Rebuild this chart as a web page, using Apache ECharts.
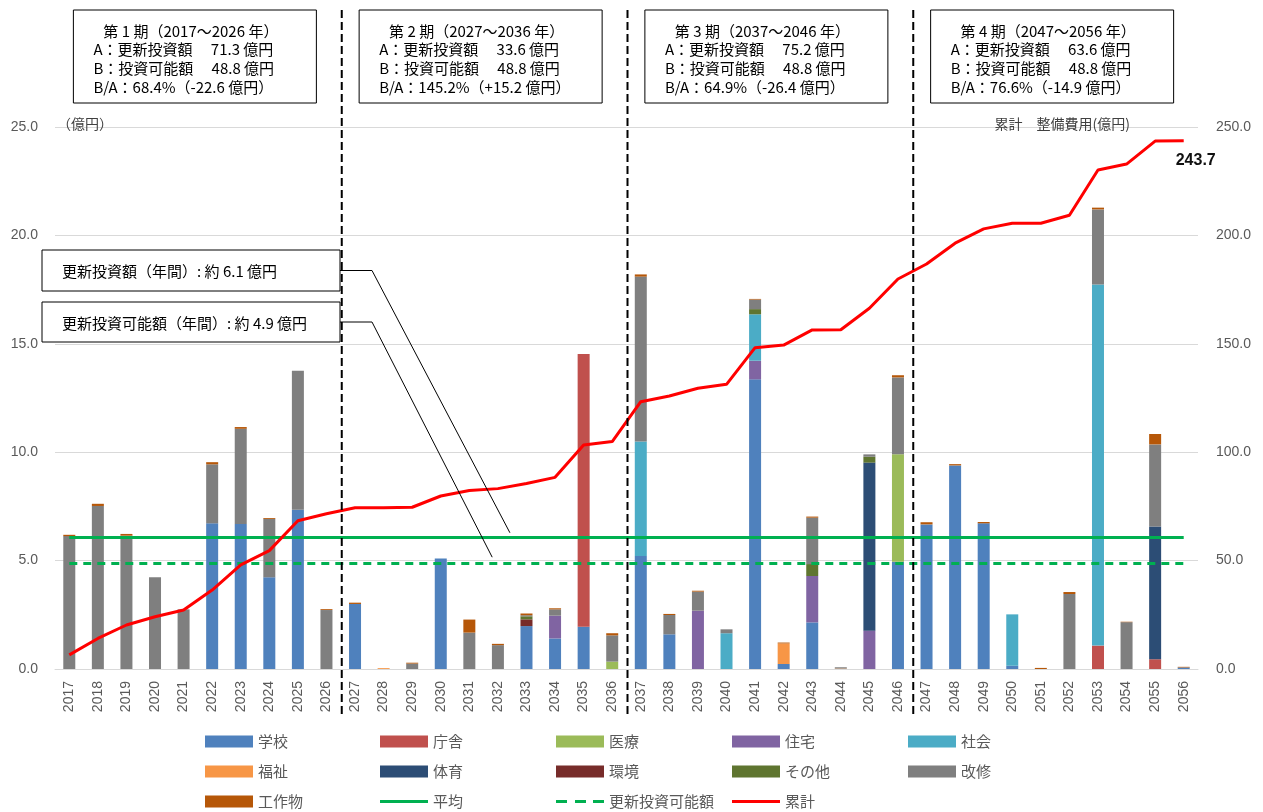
<!DOCTYPE html>
<html><head><meta charset="utf-8">
<script src="https://cdn.jsdelivr.net/npm/echarts@6/dist/echarts.min.js"></script>
<style>html,body{margin:0;padding:0;background:#fff}#c{width:1263px;height:812px}</style>
</head><body><div id="c"></div>
<script>
const years = ['2017','2018','2019','2020','2021','2022','2023','2024','2025','2026',
  '2027','2028','2029','2030','2031','2032','2033','2034','2035','2036',
  '2037','2038','2039','2040','2041','2042','2043','2044','2045','2046',
  '2047','2048','2049','2050','2051','2052','2053','2054','2055','2056'];

const school   = [0,0,0,0,0,6.72,6.69,4.23,7.35,0,  3.00,0,0,5.10,0,0,1.98,1.41,1.95,0,  5.21,1.60,0,0,13.36,0.23,2.15,0,0,4.95,  6.67,9.39,6.72,0.15,0,0,0,0,0,0.07];
const office   = [0,0,0,0,0,0,0,0,0,0,  0,0,0,0,0,0,0,0,12.58,0,  0,0,0,0,0,0,0,0,0,0,  0,0,0,0,0,0,1.08,0,0.45,0];
const medical  = [0,0,0,0,0,0,0,0,0,0,  0,0,0,0,0,0,0,0,0,0.34,  0,0,0,0,0,0,0,0,0,4.95,  0,0,0,0,0,0,0,0,0,0];
const housing  = [0,0,0,0,0,0,0,0,0,0,  0,0,0,0,0,0,0,1.05,0,0,  0,0,2.69,0,0.86,0,2.14,0,1.77,0,  0,0,0,0,0,0,0,0,0,0];
const social   = [0,0,0,0,0,0,0,0,0,0,  0,0,0,0,0,0,0,0,0,0,  5.28,0,0,1.65,2.14,0,0,0,0,0,  0,0,0,2.37,0,0,16.66,0,0,0];
const welfare  = [0,0,0,0,0,0,0,0,0,0,  0,0.04,0,0,0,0,0,0,0,0,  0,0,0,0,0,0.95,0,0.02,0,0,  0,0,0,0,0,0,0,0,0,0];
const sports   = [0,0,0,0,0,0,0,0,0,0,  0,0,0,0,0,0,0,0,0,0,  0,0,0,0,0,0,0,0,7.75,0,  0,0,0,0,0,0,0,0,6.12,0];
const environ  = [0,0,0,0,0,0,0,0,0,0,  0,0,0,0,0,0,0.31,0,0,0,  0,0,0,0,0,0,0,0,0,0,  0,0,0,0,0,0,0,0,0,0];
const others   = [0,0,0,0,0,0,0,0,0,0,  0,0,0,0,0,0,0.14,0,0,0,  0,0,0,0,0.24,0,0.55,0,0.27,0,  0,0,0,0,0,0,0,0,0,0];
const renovate = [6.13,7.52,6.15,4.23,2.75,2.72,4.39,2.69,6.41,2.72,  0,0,0.25,0,1.68,1.10,0.05,0.29,0,1.21,  7.61,0.89,0.88,0.18,0.44,0,2.14,0.06,0.11,3.55,  0,0,0,0,0,3.46,3.46,2.16,3.79,0];
const structs  = [0.06,0.10,0.08,0,0,0.10,0.08,0.04,0,0.04,  0.06,0,0.04,0,0.60,0.06,0.08,0.05,0,0.10,  0.10,0.05,0.04,0,0.03,0.04,0.05,0,0,0.10,  0.10,0.06,0.06,0,0.05,0.09,0.08,0.02,0.48,0.03];

const cumulative = [6.5,14.1,20.3,24.1,27.2,36.4,48.0,54.6,68.4,71.6,
  74.4,74.4,74.6,79.8,82.3,83.2,85.6,88.4,103.3,104.9,
  123.3,125.9,129.5,131.3,148.2,149.4,156.4,156.5,166.4,179.9,
  186.8,196.4,203.0,205.6,205.6,209.3,230.2,232.9,243.5,243.7];

const averageValue = 6.1;
const capacityValue = 4.88;

const periodTexts = [
  ['第 1 期（2017～2026 年）','A：更新投資額　 71.3 億円','B：投資可能額　 48.8 億円','B/A：68.4%（-22.6 億円）'],
  ['第 2 期（2027～2036 年）','A：更新投資額　 33.6 億円','B：投資可能額　 48.8 億円','B/A：145.2%（+15.2 億円）'],
  ['第 3 期（2037～2046 年）','A：更新投資額　 75.2 億円','B：投資可能額　 48.8 億円','B/A：64.9%（-26.4 億円）'],
  ['第 4 期（2047～2056 年）','A：更新投資額　 63.6 億円','B：投資可能額　 48.8 億円','B/A：76.6%（-14.9 億円）']
];
const calloutTexts = ['更新投資額（年間）: 約 6.1 億円','更新投資可能額（年間）: 約 4.9 億円'];

const legendRows = [
  ['学校', '庁舎', '医療', '住宅', '社会'],
  ['福祉', '体育', '環境', 'その他', '改修'],
  ['工作物', '平均', '更新投資可能額', '累計']
];

const FONT = '"Noto Sans CJK JP", "Noto Sans", sans-serif';
const NUMFONT = '"Liberation Sans", Arial, sans-serif';
const barDefs = [
  ['学校', school, '#4F81BD'], ['庁舎', office, '#C0504D'], ['医療', medical, '#9BBB59'],
  ['住宅', housing, '#8064A2'], ['社会', social, '#4BACC6'], ['福祉', welfare, '#F79646'],
  ['体育', sports, '#2C4D75'], ['環境', environ, '#772C2A'], ['その他', others, '#5F7530'],
  ['改修', renovate, '#7F7F7F'], ['工作物', structs, '#B65708']
];
const barNames = barDefs.map(d => d[0]);

const series = barDefs.map(([name, data, color]) => ({
  name, type: 'bar', stack: 'total', data, barWidth: 12,
  itemStyle: { color }, emphasis: { disabled: true }
}));
series.push({
  name: '平均', type: 'line', data: [], symbol: 'none',
  lineStyle: { color: '#00B050', width: 3 }, itemStyle: { color: '#00B050' },
  markLine: { silent: true, symbol: 'none', label: { show: false },
    lineStyle: { color: '#00B050', width: 3, type: 'solid' },
    data: [[{ coord: [years[0], averageValue] }, { coord: [years[years.length - 1], averageValue] }]] },
  z: 5
});
series.push({
  name: '更新投資可能額', type: 'line', data: [], symbol: 'none',
  lineStyle: { color: '#00B050', width: 3, type: [8, 6] }, itemStyle: { color: '#00B050' },
  markLine: { silent: true, symbol: 'none', label: { show: false },
    lineStyle: { color: '#00B050', width: 3, type: [8, 6] },
    data: [[{ coord: [years[0], capacityValue] }, { coord: [years[years.length - 1], capacityValue] }]] },
  z: 5
});
series.push({
  name: '累計', type: 'line', yAxisIndex: 1, symbol: 'none', z: 6,
  lineStyle: { color: '#FF0000', width: 3 }, itemStyle: { color: '#FF0000' },
  endLabel: { show: true, formatter: p => Number(p.value).toFixed(1), distance: 0, offset: [-8, 20],
    fontSize: 16, fontWeight: 'bold', color: '#111', fontFamily: NUMFONT },
  data: cumulative
});

const lineIcons = {
  '平均': 'path://M0,0h48v3h-48z',
  '更新投資可能額': 'path://M0,0h11v3h-11zM19,0h11v3h-11zM37,0h11v3h-11z',
  '累計': 'path://M0,0h48v3h-48z'
};
const colX = [200, 375, 551, 727, 903];
const rowTop = [729, 759, 789];
const legends = [];
legendRows.forEach((names, r) => names.forEach((n, c) => {
  const isBar = barNames.includes(n);
  legends.push({
    left: colX[c], top: rowTop[r], itemWidth: 48, itemHeight: isBar ? 12 : 3,
    selectedMode: false, itemStyle: { borderWidth: 0 },
    textStyle: { fontSize: 15, color: '#595959', fontFamily: FONT },
    data: [{ name: n, icon: isBar ? 'rect' : lineIcons[n] }]
  });
}));

const chart = echarts.init(document.getElementById('c'));
chart.setOption({
  animation: false,
  backgroundColor: '#fff',
  grid: { left: 55, right: 65, top: 127, bottom: 143 },
  xAxis: {
    type: 'category', data: years,
    axisLine: { lineStyle: { color: '#d9d9d9', width: 1 } },
    axisTick: { show: false },
    axisLabel: { rotate: 90, margin: 12, fontSize: 14, color: '#595959', fontFamily: NUMFONT }
  },
  yAxis: [{
    type: 'value', min: 0, max: 25, interval: 5,
    name: '（億円）', nameLocation: 'end', nameGap: 3,
    nameTextStyle: { align: 'left', verticalAlign: 'middle', fontSize: 14, color: '#404040', fontFamily: FONT, padding: [0, 0, 0, 2] },
    axisLabel: { formatter: v => v.toFixed(1), fontSize: 14, color: '#595959', margin: 17, fontFamily: NUMFONT },
    splitLine: { lineStyle: { color: '#d9d9d9' } },
    axisLine: { show: false }, axisTick: { show: false }
  }, {
    type: 'value', min: 0, max: 250, interval: 50,
    name: '累計　整備費用(億円)', nameLocation: 'end', nameGap: 3,
    nameTextStyle: { align: 'right', verticalAlign: 'middle', fontSize: 14, color: '#404040', fontFamily: FONT, padding: [0, 68, 0, 0] },
    axisLabel: { formatter: v => v.toFixed(1), fontSize: 14, color: '#595959', margin: 18, fontFamily: NUMFONT },
    splitLine: { show: false },
    axisLine: { show: false }, axisTick: { show: false }
  }],
  legend: legends,
  series
});

// Annotations positioned through the chart's own scales
const xs = years.map(y => chart.convertToPixel({ xAxisIndex: 0 }, y));
const band = xs[1] - xs[0];
const yAvg = chart.convertToPixel({ yAxisIndex: 0 }, averageValue);
const yCap = chart.convertToPixel({ yAxisIndex: 0 }, capacityValue);
const graphic = [];
[10, 20, 30].forEach(i => {
  const sx = (xs[i - 1] + xs[i]) / 2 + 1;
  graphic.push({ type: 'line', z: 20, silent: true,
    shape: { x1: sx, y1: 10, x2: sx, y2: 716 },
    style: { stroke: '#000', lineWidth: 2, lineDash: [8, 4] } });
});
periodTexts.forEach((lines, k) => {
  const cx = (xs[k * 10] + xs[k * 10 + 9]) / 2 - 3;
  const w = 243, h = 93, x0 = cx - w / 2, y0 = 10;
  graphic.push({ type: 'rect', z: 30, silent: true, shape: { x: x0, y: y0, width: w, height: h },
    style: { fill: '#fff', stroke: '#000', lineWidth: 1 } });
  graphic.push({ type: 'text', z: 31, silent: true,
    style: { text: lines[0], x: cx - 4, y: y0 + 21, align: 'center', verticalAlign: 'middle', font: '15px ' + FONT, fill: '#000' } });
  for (let j = 1; j < 4; j++) {
    graphic.push({ type: 'text', z: 31, silent: true,
      style: { text: lines[j], x: x0 + 20, y: y0 + 21 + j * 18.6, align: 'left', verticalAlign: 'middle', font: '15px ' + FONT, fill: '#000' } });
  }
});
const boxes = [{ y: 250, h: 41, tip: [xs[15] + band * 0.42, yAvg - 4] },
               { y: 302, h: 40, tip: [xs[15] - band * 0.2, yCap - 6] }];
boxes.forEach((b, k) => {
  graphic.push({ type: 'rect', z: 30, silent: true, shape: { x: 42, y: b.y, width: 298, height: b.h },
    style: { fill: '#fff', stroke: '#000', lineWidth: 1 } });
  graphic.push({ type: 'text', z: 31, silent: true,
    style: { text: calloutTexts[k], x: 62, y: b.y + b.h / 2 + 1, align: 'left', verticalAlign: 'middle', font: '15px ' + FONT, fill: '#000' } });
  const ly = b.y + b.h / 2;
  graphic.push({ type: 'polyline', z: 25, silent: true,
    shape: { points: [[340, ly], [372, ly], b.tip] },
    style: { stroke: '#000', lineWidth: 1, fill: null } });
});
chart.setOption({ graphic });
</script>
</body></html>
